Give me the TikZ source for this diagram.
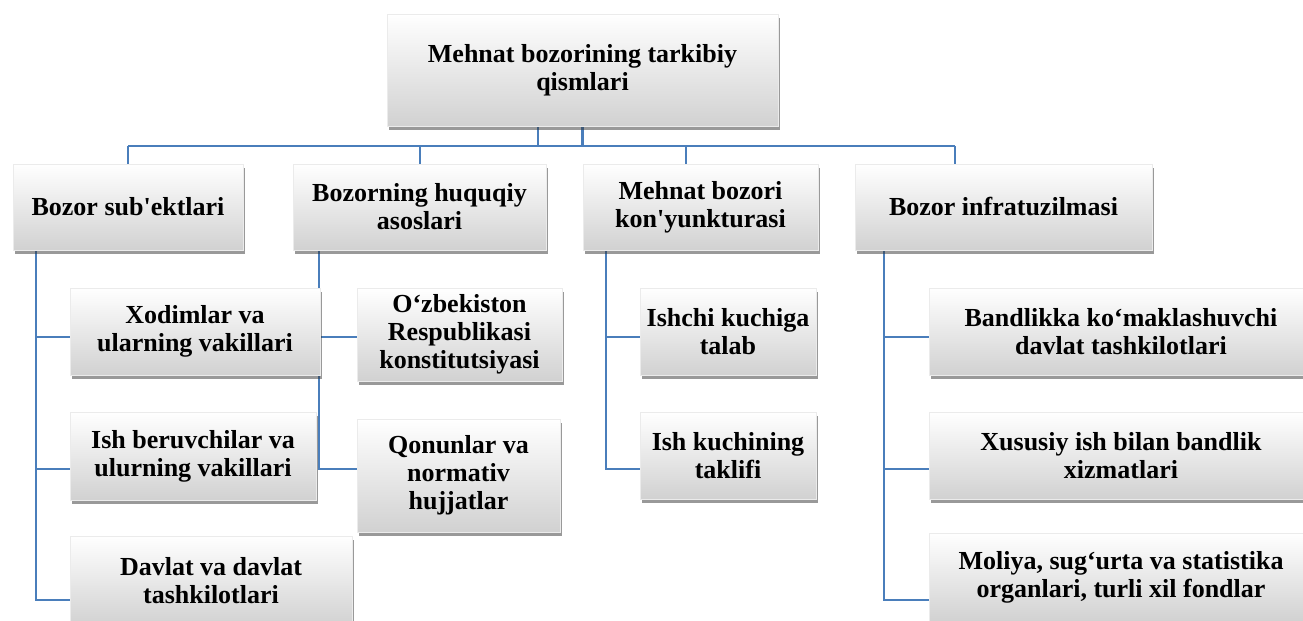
\documentclass[tikz,border=0pt]{standalone}
\usepackage{fontspec}
\setmainfont{Liberation Serif}
\usepackage{tikz}
\usetikzlibrary{shadows,backgrounds}
\definecolor{smblue}{RGB}{74,126,187}
\tikzstyle{box} = [draw=black!8, top color=white, middle color=white!96!black, bottom color=black!18, drop shadow={shadow xshift=1.2pt, shadow yshift=-2.2pt, fill=black!80, opacity=0.5}, align=center, inner sep=1pt, font=\fontsize{13}{14}\selectfont\bfseries]
\tikzstyle{conn} = [line width=1pt, color=smblue]

\begin{document}
\begin{tikzpicture}[x=0.5pt, y=-0.5pt]
\clip (0,0) rectangle (1303,621);

% Top box
\node[box, minimum width=195.5pt, minimum height=56pt] (root) at (582.5,70) {Mehnat bozorining tarkibiy\\qismlari};

% First level
\node[box, minimum width=115pt, minimum height=43pt] (subj) at (128,207) {Bozor sub\textquotesingle ektlari};
\node[box, minimum width=126.5pt, minimum height=43pt] (huquq) at (419.5,207) {Bozorning huquqiy\\asoslari};
\node[box, minimum width=117.5pt, minimum height=43pt] (konyun) at (700.5,207) {Mehnat bozori\\kon\textquotesingle yunkturasi};
\node[box, minimum width=148.5pt, minimum height=43pt] (infra) at (1003.5,207) {Bozor infratuzilmasi};

% Bozor sub'ektlari
\node[box, minimum width=125pt, minimum height=43.5pt] (xodim) at (195,331.5) {Xodimlar va\\ularning vakillari};
\node[box, minimum width=123pt, minimum height=44pt] (ishber) at (193,456) {Ish beruvchilar va\\ulurning vakillari};
\node[box, minimum width=141pt, minimum height=45pt] (davlat) at (211,581) {Davlat va davlat\\tashkilotlari};

% Huquqiy asoslar
\node[box, minimum width=102.5pt, minimum height=46.5pt] (konst) at (459.5,334.5) {O‘zbekiston\\Respublikasi\\konstitutsiyasi};
\node[box, minimum width=101.5pt, minimum height=56.5pt] (qonun) at (458.5,475.5) {Qonunlar va\\normativ\\hujjatlar};

% Kon'yunktura
\node[box, minimum width=88pt, minimum height=43.5pt] (talab) at (728,331.5) {Ishchi kuchiga\\talab};
\node[box, minimum width=88pt, minimum height=43.5pt] (taklif) at (728,455.5) {Ish kuchining\\taklifi};

% Infratuzilma
\node[box, minimum width=192pt, minimum height=43.5pt] (bandlik) at (1121,331.5) {Bandlikka ko‘maklashuvchi\\davlat tashkilotlari};
\node[box, minimum width=192pt, minimum height=43.5pt] (xususiy) at (1121,455.5) {Xususiy ish bilan bandlik\\xizmatlari};
\node[box, minimum width=192pt, minimum height=44.5pt] (moliya) at (1121,577.5) {Moliya, sug‘urta va statistika\\organlari, turli xil fondlar};

% Connectors
\begin{scope}[on background layer]
\coordinate (bus) at (0,146);
\coordinate (r1) at (0,337);
\coordinate (r2) at (0,469);
\coordinate (r3) at (0,600);

\draw[conn] ([xshift=-22.5pt]root.south) -- ([xshift=-22.5pt]root.south |- bus);
\draw[conn, line width=1.6pt] (root.south) -- (root.south |- bus);
\draw[conn] (subj.north |- bus) -- ([xshift=-24.25pt]infra.north |- bus);
\draw[conn] (subj.north) -- (subj.north |- bus);
\draw[conn] (huquq.north) -- (huquq.north |- bus);
\draw[conn] ([xshift=-7.5pt]konyun.north) -- ([xshift=-7.5pt]konyun.north |- bus);
\draw[conn] ([xshift=-24.25pt]infra.north) -- ([xshift=-24.25pt]infra.north |- bus);

\draw[conn] ([xshift=11.5pt]subj.south west) |- (xodim.west |- r1);
\draw[conn] ([xshift=11.5pt]subj.south west) |- (ishber.west |- r2);
\draw[conn] ([xshift=11.5pt]subj.south west) |- (davlat.west |- r3);

\draw[conn] ([xshift=13pt]huquq.south west) |- (konst.west |- r1);
\draw[conn] ([xshift=13pt]huquq.south west) |- (qonun.west |- r2);

\draw[conn] ([xshift=11.5pt]konyun.south west) |- (talab.west |- r1);
\draw[conn] ([xshift=11.5pt]konyun.south west) |- (taklif.west |- r2);

\draw[conn] ([xshift=14.5pt]infra.south west) |- (bandlik.west |- r1);
\draw[conn] ([xshift=14.5pt]infra.south west) |- (xususiy.west |- r2);
\draw[conn] ([xshift=14.5pt]infra.south west) |- (moliya.west |- r3);
\end{scope}
\end{tikzpicture}
\end{document}
